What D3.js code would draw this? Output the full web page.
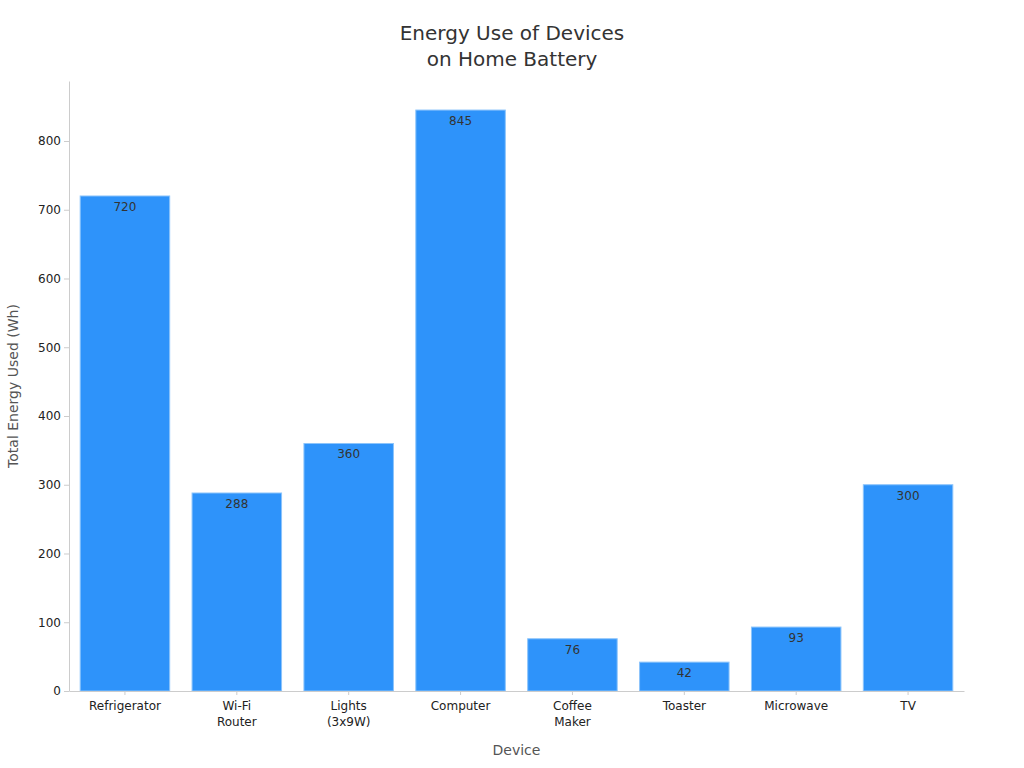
<!DOCTYPE html>
<html>
<head>
<meta charset="utf-8">
<script src="https://cdn.jsdelivr.net/npm/d3@7"></script>
<style>
  body { margin: 0; background: #fff; }
  svg, svg text { font-family: "DejaVu Sans", sans-serif; }
  .axis path, .axis line { stroke: #cccccc; }
  .axis text { fill: #222; font-size: 12px; font-family: "DejaVu Sans", sans-serif; }
  .title { fill: #333; font-size: 20px; }
  .label { fill: #555; font-size: 14px; }
  .value { fill: #333; font-size: 12px; }
</style>
</head>
<body>
<script>
const devices = ['Refrigerator', 'Wi-Fi\nRouter', 'Lights\n(3x9W)', 'Computer', 'Coffee\nMaker', 'Toaster', 'Microwave', 'TV'];
const energy = [720, 288, 360, 845, 76, 42, 93, 300];
const yTicks = [0, 100, 200, 300, 400, 500, 600, 700, 800];

const data = devices.map((d, i) => ({ label: d, value: energy[i] }));

const width = 1024;
const height = 768;
const margin = { top: 81, right: 60, bottom: 77, left: 69 };

const svg = d3.select('body')
  .append('svg')
  .attr('width', width)
  .attr('height', height);

const x = d3.scaleBand()
  .domain(devices)
  .range([margin.left, width - margin.right])
  .paddingInner(0.2)
  .paddingOuter(0.1);

const y = d3.scaleLinear()
  .domain([0, d3.max(energy) * 1.05])
  .range([height - margin.bottom, margin.top]);

svg.selectAll('rect.bar')
  .data(data)
  .enter()
  .append('rect')
  .attr('class', 'bar')
  .attr('x', d => x(d.label))
  .attr('y', d => y(d.value))
  .attr('width', x.bandwidth())
  .attr('height', d => y(0) - y(d.value))
  .attr('fill', '#2e93fa')
  .attr('stroke', '#8cc4fb')
  .attr('stroke-width', 1);

svg.selectAll('text.value')
  .data(data)
  .enter()
  .append('text')
  .attr('class', 'value')
  .attr('text-anchor', 'middle')
  .attr('x', d => x(d.label) + x.bandwidth() / 2)
  .attr('y', d => y(d.value) + 15)
  .text(d => d.value);

const xAxis = svg.append('g')
  .attr('class', 'x axis')
  .attr('transform', `translate(0, ${height - margin.bottom})`)
  .call(d3.axisBottom(x).tickSize(4).tickSizeOuter(0));

xAxis.selectAll('.tick text').each(function (d) {
  const t = d3.select(this).text(null);
  d.split('\n').forEach((line, i) => {
    t.append('tspan')
      .attr('x', 0)
      .attr('dy', i === 0 ? '0.71em' : '1.35em')
      .text(line);
  });
});
xAxis.selectAll('.tick text').attr('y', 10);

svg.append('g')
  .attr('class', 'y axis')
  .attr('transform', `translate(${margin.left}, 0)`)
  .call(d3.axisLeft(y).tickValues(yTicks).tickSize(5).tickSizeOuter(0));

svg.append('text')
  .attr('class', 'title')
  .attr('text-anchor', 'middle')
  .attr('x', width / 2)
  .attr('y', 40)
  .selectAll('tspan')
  .data(['Energy Use of Devices', 'on Home Battery'])
  .enter()
  .append('tspan')
  .attr('x', width / 2)
  .attr('dy', (d, i) => i === 0 ? 0 : 26)
  .text(d => d);

svg.append('text')
  .attr('class', 'label')
  .attr('text-anchor', 'middle')
  .attr('x', (margin.left + width - margin.right) / 2)
  .attr('y', 755)
  .text('Device');

svg.append('text')
  .attr('class', 'label')
  .attr('text-anchor', 'middle')
  .attr('transform', `translate(18, ${(margin.top + height - margin.bottom) / 2}) rotate(-90)`)
  .text('Total Energy Used (Wh)');
</script>
</body>
</html>
